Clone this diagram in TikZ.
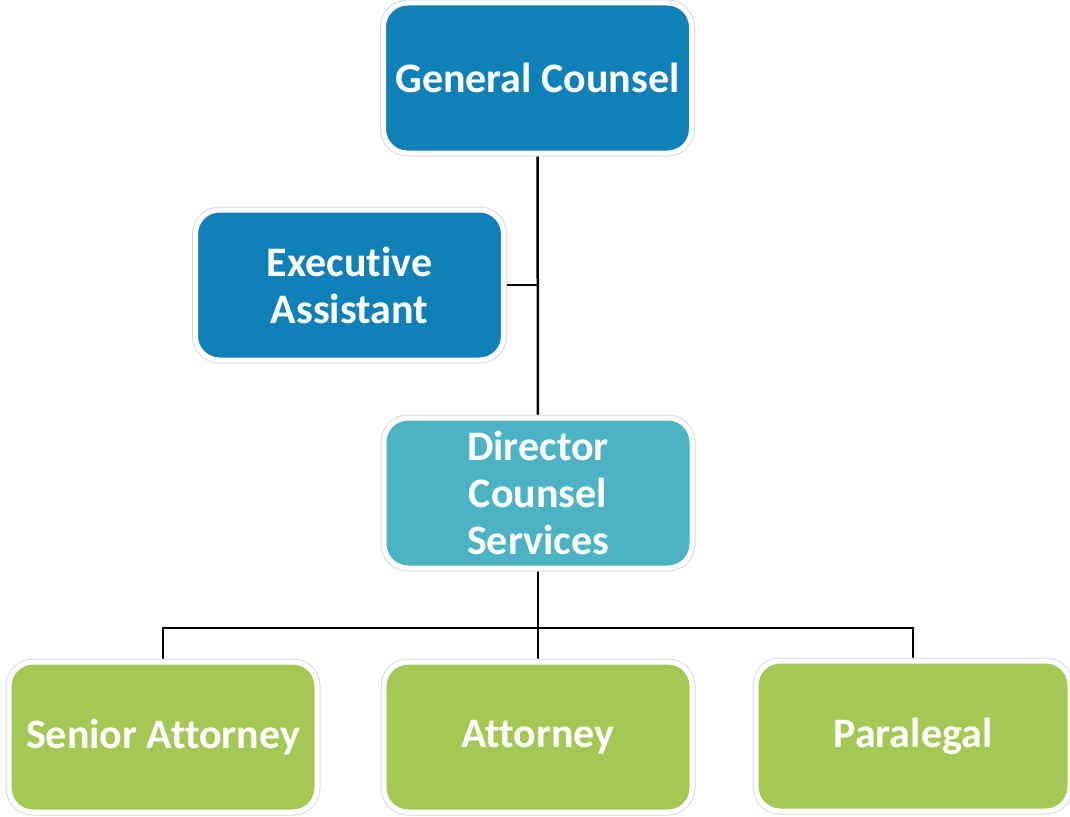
\documentclass[tikz,border=0pt]{standalone}
\usepackage{fontspec}
\setmainfont[Ligatures=NoCommon]{Carlito}
\usetikzlibrary{positioning,calc,backgrounds}

\definecolor{gcblue}{RGB}{16,128,185}
\definecolor{dirteal}{RGB}{75,179,196}
\definecolor{staffgreen}{RGB}{164,200,84}

\tikzset{
  orgbox/.style={rounded corners=24pt, minimum width=308pt, minimum height=150pt,
    draw=white, line width=5pt, text=white, align=center,
    font=\fontsize{42}{47}\selectfont\bfseries,
    preaction={draw=gray!30, line width=7pt}},
  link/.style={black, line width=2.5pt}
}

\begin{document}
\begin{tikzpicture}[x=1pt,y=-1pt]
    \useasboundingbox (0,0) rectangle (1070,816);

    % Top level
    \node[orgbox,fill=gcblue] (gc) at (537.5,78) {General Counsel};
    \node[orgbox,fill=gcblue] (ea) at (349.5,285) {Executive\\Assistant};

    % Director
    \node[orgbox,fill=dirteal] (dir) at (538,493) {Director\\Counsel\\Services};

    % Staff
    \node[orgbox,fill=staffgreen] (sen) at (163,737) {Senior Attorney};
    \node[orgbox,fill=staffgreen] (att) at (538,737) {Attorney};
    \node[orgbox,fill=staffgreen,minimum width=314pt] (par) at (913,736) {Paralegal};

    % Lines
    \coordinate (bus) at (538,628);
    \begin{scope}[on background layer]
      \draw[link] (gc) -- (dir);
      \draw[link] (ea) -- (ea -| gc);
      \draw[link] (dir) -- (att);
      \draw[link] (sen.north) |- (bus) -| (par.north);
    \end{scope}
\end{tikzpicture}
\end{document}
